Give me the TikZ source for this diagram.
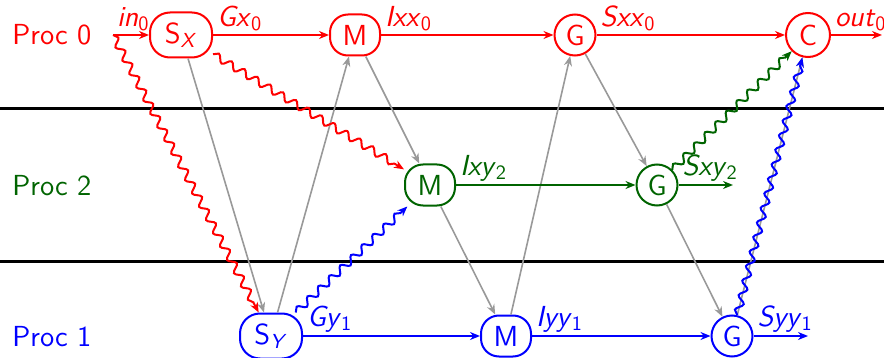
\documentclass[tikz,border=0pt]{standalone}
\usetikzlibrary{arrows.meta,decorations.pathmorphing}
\renewcommand{\familydefault}{\sfdefault}
\definecolor{pzero}{RGB}{255,0,0}
\definecolor{pone}{RGB}{0,0,255}
\definecolor{ptwo}{RGB}{0,100,0}
\definecolor{dep}{RGB}{153,153,153}
\newcommand{\lab}[2]{\textit{#1}\textsubscript{#2}}
\begin{document}
\begin{tikzpicture}[x=0.5pt,y=-0.5pt,
  font=\fontsize{14.5}{17}\selectfont,
  >={Stealth[length=5pt,width=4pt]},
  opbox/.style={draw, line width=1pt, rounded corners=9pt, minimum height=20.5pt, minimum width=25pt, inner sep=2pt},
  sbox/.style={opbox, rounded corners=10pt, minimum height=22.5pt, minimum width=31pt},
  opround/.style={draw, line width=1pt, circle, minimum size=20.5pt, inner sep=1pt},
  flow/.style={->, line width=1pt},
  elab/.style={pos=0, anchor=south west, inner sep=1.5pt},
  depline/.style={->, dep, line width=0.8pt},
  msg/.style={->, line width=1pt, decorate,
    decoration={snake, amplitude=1.8pt, segment length=7.5pt, post length=4pt}},
  sep/.style={line width=1.5pt, black}]
\useasboundingbox (0,0) rectangle (884,358);

% separators between processors
\draw[sep] (0,109) -- (884,109);
\draw[sep] (0,261) -- (884,261);

% processor names
\node[anchor=west, text=pzero, inner sep=0pt] (p0) at (12,35) {Proc 0};
\node[anchor=west, text=ptwo, inner sep=0pt] (p2) at (12,186) {Proc 2};
\node[anchor=west, text=pone, inner sep=0pt] (p1) at (12,337) {Proc 1};

% operations on Proc 0
\node[sbox, pzero] (sx) at (181,35) {S\textsubscript{\textit{X}}};
\node[opbox, pzero] (m0) at (355,35) {M};
\node[opround, pzero] (g0) at (575,35) {G};
\node[opround, pzero, minimum size=22pt] (c0) at (808,35) {C};
\coordinate (in0) at (113,35);
\coordinate (out0) at (882,35);

% operations on Proc 2
\node[opbox, ptwo] (m2) at (430,185) {M};
\node[opround, ptwo] (g2) at (657,185) {G};
\coordinate (out2) at (733,185);

% operations on Proc 1
\node[sbox, pone] (sy) at (271,336) {S\textsubscript{\textit{Y}}};
\node[opbox, pone] (m1) at (506,336) {M};
\node[opround, pone] (g1) at (732,336) {G};
\coordinate (out1) at (808,336);

% data dependencies
\draw[depline] (sx) -- (sy);
\draw[depline] (sy) -- (m0);
\draw[depline] (m0) -- (m2);
\draw[depline] (m2) -- (m1);
\draw[depline] (m1) -- (g0);
\draw[depline] (g0) -- (g2);
\draw[depline] (g2) -- (g1);
\draw[depline] (g1) -- (c0);

% local flow on Proc 0
\draw[flow, pzero] (in0) -- node[elab]{\lab{in}{0}} (sx);
\draw[flow, pzero] (sx) -- node[elab]{\lab{Gx}{0}} (m0);
\draw[flow, pzero] (m0) -- node[elab]{\lab{Ixx}{0}} (g0);
\draw[flow, pzero] (g0) -- node[elab]{\lab{Sxx}{0}} (c0);
\draw[flow, pzero] (c0) -- node[elab]{\lab{out}{0}} (out0);

% local flow on Proc 2
\draw[flow, ptwo] (m2) -- node[elab]{\lab{Ixy}{2}} (g2);
\draw[flow, ptwo] (g2) -- node[elab]{\lab{Sxy}{2}} (out2);

% local flow on Proc 1
\draw[flow, pone] (sy) -- node[elab]{\lab{Gy}{1}} (m1);
\draw[flow, pone] (m1) -- node[elab]{\lab{Iyy}{1}} (g1);
\draw[flow, pone] (g1) -- node[elab]{\lab{Syy}{1}} (out1);

% messages between processors
\draw[msg, pzero] (in0) -- (sy);
\draw[msg, pzero] (sx) -- (m2);
\draw[msg, pone] (sy) -- (m2);
\draw[msg, ptwo] (g2) -- (c0);
\draw[msg, pone] (g1) -- (c0);
\end{tikzpicture}
\end{document}
